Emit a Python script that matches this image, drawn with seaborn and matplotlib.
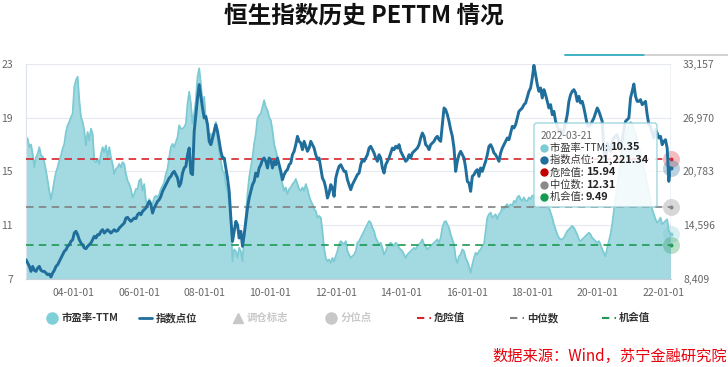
import pandas as pd
import seaborn as sns
import matplotlib.pyplot as plt
import matplotlib.dates as mdates
from matplotlib.lines import Line2D
from matplotlib.patches import FancyBboxPatch
from matplotlib.text import Annotation
from matplotlib.ticker import FuncFormatter

sns.set_style("white")
plt.rcParams["font.family"] = ["Noto Sans CJK SC", "DejaVu Sans"]
plt.rcParams["axes.unicode_minus"] = False

# data (roughly every ~19 days, 2002-07 .. 2022-03-21)
start_date = "2002-07-19"
end_date = "2022-03-21"

pe_ttm = [
    17.55, 17.43, 16.8, 17.0, 16.3, 15.3, 16.05, 16.3, 16.8, 16.18,
    16.1, 15.68, 15.05, 14.3, 13.55, 12.93, 13.55, 14.3, 14.93, 15.3,
    15.8, 16.18, 16.68, 17.05, 17.93, 18.43, 18.68, 19.05, 19.3, 21.3,
    21.8, 22.05, 20.3, 19.05, 18.68, 18.05, 16.93, 17.93, 17.3, 18.18,
    17.8, 15.8, 15.68, 15.93, 15.55, 16.3, 16.8, 16.43, 16.93, 16.05,
    16.8, 16.05, 15.55, 14.8, 15.18, 15.3, 15.55, 15.3, 15.68, 15.55,
    14.8, 14.3, 14.05, 13.68, 13.05, 13.3, 13.68, 13.68, 14.3, 14.43,
    13.55, 14.05, 12.8, 12.55, 12.93, 12.68, 12.55, 13.05, 13.18, 13.05,
    13.3, 13.68, 13.93, 14.18, 14.8, 15.18, 16.05, 16.8, 17.05, 16.8,
    17.18, 17.55, 18.43, 18.18, 18.18, 18.3, 18.55, 20.05, 20.93, 20.05,
    18.55,
    19.3, 20.3, 22.05, 22.68, 21.55, 20.05, 20.55, 18.8, 18.3, 17.55,
    17.8, 17.05, 18.18, 18.68, 17.55, 16.55, 15.8, 15.05, 14.93, 14.05,
    13.55, 12.55, 11.05, 8.3, 9.18, 9.05, 8.55, 9.3, 9.05, 8.3,
    10.05, 11.8, 13.3, 14.55, 15.3, 16.05, 17.05, 17.8, 18.93, 19.18,
    19.3, 19.8, 20.3, 19.8, 19.55, 19.05, 18.8, 18.05, 17.05, 16.55,
    16.05, 15.3, 14.55, 14.05, 13.55, 13.8, 13.3, 13.68, 13.8, 14.05,
    14.18, 14.43, 14.05, 13.68, 13.55, 13.8, 13.55, 14.05, 13.68, 13.18,
    12.8, 12.55, 12.18, 12.05, 11.55, 11.68, 11.55, 10.55, 9.3, 8.55,
    8.3, 8.43, 8.18, 8.55, 8.3, 8.68, 9.05, 9.55, 9.8, 9.68,
    9.55, 9.8, 9.05, 8.8, 8.55, 8.68, 8.8, 9.05, 9.68, 9.8,
    10.05, 10.3, 10.55, 10.8, 11.05, 11.3, 11.18, 10.8, 10.55, 10.05,
    9.8, 9.55, 9.68, 9.3, 8.8, 9.05, 9.43, 9.55, 9.68, 9.55,
    9.43, 9.68, 9.55, 9.3, 9.18, 9.05, 8.8, 8.55, 8.8, 8.93,
    9.05, 9.18, 9.3, 9.18, 9.43, 9.55, 9.68, 9.93, 9.55, 9.43,
    9.18, 9.3, 9.43, 9.55, 9.68, 9.8, 9.93, 9.68, 10.05, 10.8,
    11.18, 11.3, 11.05, 10.8, 10.3, 9.93, 9.55, 8.55, 8.18, 8.68,
    8.8, 9.18, 9.05, 8.55, 8.3, 7.93, 7.43, 8.05, 8.55, 8.93,
    8.8, 9.05, 9.18, 9.43, 9.55, 10.55, 11.55, 11.8, 11.93, 11.55,
    11.68, 11.8, 11.43, 11.8, 11.93, 12.3, 12.18, 12.43, 12.55, 12.3,
    12.55, 12.43, 12.8, 12.68, 13.05, 13.18, 12.93, 12.8, 13.05, 12.8,
    12.8, 13.05, 12.93, 13.18, 13.18, 13.1, 13.05, 13.05, 12.93, 12.93,
    12.8, 12.8, 12.55, 12.3, 11.93, 11.55, 11.05, 10.68, 10.3, 10.05,
    9.93, 9.93, 10.05, 10.3, 10.55, 10.68, 10.8, 10.93, 10.8, 10.55,
    10.3, 9.93, 9.8, 9.93, 10.05, 10.18, 10.3, 10.43, 10.3, 10.05,
    9.93, 9.8, 9.68, 9.8, 9.55, 9.18, 8.93, 8.68, 9.3, 9.8,
    10.3, 11.05, 12.05, 13.05, 13.8, 14.8, 15.8, 16.55, 17.05, 17.68,
    18.05, 18.43, 18.68, 18.55, 18.18, 17.8, 17.3, 16.8, 16.3, 15.8,
    15.3, 14.68, 14.05, 13.43, 12.8, 12.18, 11.8, 11.43, 11.18, 11.3,
    11.55, 11.05, 11.18, 11.3, 11.43, 10.55, 10.35,
]

hsi_points = [
    10600, 10215, 9830, 9255, 9830, 9370, 9255, 9640, 9830, 9370,
    9255, 9255, 9060, 8870, 8950, 8600, 9060, 9370, 9830, 10020,
    10410, 10790, 11180, 11560, 11750, 12140, 12330, 12710, 12900, 13670,
    13870, 13480, 12900, 12520, 12330, 11950, 11870, 12140, 12330, 12520,
    12900, 13290, 13100, 13480, 13480, 13870, 14060, 13670, 13870, 14060,
    13870, 13670, 13870, 14060, 13870, 13940, 14250, 14440, 14630, 14830,
    15400, 15480, 15210, 15020, 15210, 15400, 15330, 15790, 15980, 15790,
    16170, 16360, 16560, 16940, 17330, 16940, 15980, 16560, 16940, 17330,
    17520, 17900, 18480, 18860, 19250, 19630, 20010, 20210, 20590, 20780,
    20400, 20010, 19050, 19440, 20590, 21170, 21360, 22700, 23470, 20590,
    20400,
    25400, 27320, 29240, 30780, 29430, 28090, 26930, 27120, 26160, 24240,
    23860, 24630, 25400, 26160, 25400, 24240, 23090, 22320, 22320, 21170,
    20010, 18480, 15400, 12710, 13870, 15020, 14630, 13100, 13870, 12140,
    13480, 15020, 16560, 17710, 18480, 19250, 19630, 20590, 20210, 21170,
    21550, 22130, 22320, 21940, 21170, 22320, 22130, 21170, 21940, 21550,
    22320, 21550, 20780, 19820, 20400, 20780, 20980, 21550, 21740, 22700,
    23090, 23860, 24820, 24240, 24050, 23280, 24240, 23670, 23090, 23470,
    24240, 23860, 23470, 22700, 22130, 22320, 21170, 20010, 19630, 18860,
    17710, 18290, 19250, 18860, 17900, 20010, 20780, 21360, 21550, 21170,
    20780, 20780, 19820, 19250, 18670, 19250, 19630, 20010, 20400, 20590,
    21550, 22130, 21940, 22320, 22700, 23470, 23670, 23280, 22900, 22320,
    21940, 22700, 22320, 21170, 20590, 21550, 21940, 22320, 22900, 23470,
    23280, 23670, 23470, 23860, 23090, 22700, 22320, 21940, 22130, 22700,
    22320, 22900, 23090, 23280, 23470, 23860, 24630, 25200, 24820, 23860,
    23670, 23280, 23860, 24050, 24240, 24630, 24820, 24430, 24240, 26160,
    28090, 27890, 27320, 26550, 25590, 24820, 23470, 20780, 21940, 22700,
    23090, 22700, 22320, 21170, 19630, 19440, 18480, 20210, 20400, 20780,
    20980, 20210, 21170, 20780, 21360, 21940, 22700, 23670, 23860, 23470,
    22900, 22700, 22320, 21940, 22900, 23470, 23860, 24240, 24630, 24430,
    25200, 25970, 25780, 26160, 26930, 27700, 27890, 28090, 28470, 28660,
    29320, 30010, 30390, 31540, 33000, 31930, 30780, 30010, 30390, 29240,
    30200, 29620, 28850, 28090, 28470, 27320, 27700, 26550, 25970, 25400,
    25590, 25010, 25590, 26360, 27320, 28850, 29620, 30010, 30200, 29820,
    28850, 29430, 28660, 28850, 28090, 27120, 26160, 25970, 26160, 26550,
    26930, 27510, 28090, 27700, 27120, 26550, 23090, 21940, 24050, 23470,
    23090, 24240, 24630, 24820, 25010, 24050, 23470, 24430, 25590, 26550,
    26740, 26930, 29240, 30010, 30850, 29430, 28850, 28850, 29050, 28470,
    28660, 28850, 27320, 26160, 25970, 25200, 24630, 25590, 25200, 24630,
    24820, 23860, 24240, 24430, 23470, 19630, 21221.34,
]

danger_pe = 15.94
median_pe = 12.31
chance_pe = 9.49
last_pe = 10.35
last_hsi = 21221.34

left_ticks = [7, 11, 15, 19, 23]
right_ticks = [8409, 14596, 20783, 26970, 33157]
tick_years = [2004, 2006, 2008, 2010, 2012, 2014, 2016, 2018, 2020, 2022]

legend_labels = ["市盈率-TTM", "指数点位", "调仓标志", "分位点", "危险值", "中位数", "机会值"]

PE_FILL = "#a3d9e0"
PE_LINE = "#7ccad3"
HSI_BLUE = "#1f6e9c"
RED = "#d8232a"
GREY = "#808080"
GREEN = "#1d9a52"

df_pe = pd.DataFrame({"date": pd.date_range(start_date, end_date, periods=len(pe_ttm)), "pe": pe_ttm})
df_hsi = pd.DataFrame({"date": pd.date_range(start_date, end_date, periods=len(hsi_points)), "hsi": hsi_points})

W, H = 728, 367


def fx(x):
    return x / W


def fy(y):
    return 1 - y / H


fig = plt.figure(figsize=(W / 100, H / 100), dpi=100)
ax = fig.add_axes([fx(26), fy(278.7), fx(670.5) - fx(26), fy(64) - fy(278.7)])

ax.fill_between(df_pe["date"], 7, df_pe["pe"], color=PE_FILL, lw=0, zorder=1)
sns.lineplot(data=df_pe, x="date", y="pe", ax=ax, color=PE_LINE, lw=1.3, zorder=2)

for val, col in [(danger_pe, RED), (median_pe, GREY), (chance_pe, GREEN)]:
    ax.axhline(val, color=col, lw=1.2, dashes=(4.5, 3.2), zorder=3)

ax.set_ylim(7, 23)
ax.set_yticks(left_ticks)
ax.set_xlim(df_pe["date"].iloc[0], df_pe["date"].iloc[-1])
ax.set_xticks([pd.Timestamp(f"{y}-01-01") for y in tick_years])
ax.xaxis.set_major_formatter(mdates.DateFormatter("%y-%m-%d"))
ax.grid(axis="y", color="#e6e9ef", lw=0.8, zorder=0)
ax.set_axisbelow(True)
ax.set_xlabel("")
ax.set_ylabel("")
ax.tick_params(axis="y", length=0, pad=9.5, labelsize=7.5, labelcolor="#666666")
ax.tick_params(axis="x", length=4, width=0.8, color="#c5cfdc", pad=3, labelsize=7.5, labelcolor="#666666")
for side in ["top", "right"]:
    ax.spines[side].set_visible(False)
ax.spines["left"].set_color("#dde3ec")
ax.spines["bottom"].set_color("#c5cfdc")
ax.spines["left"].set_linewidth(0.8)
ax.spines["bottom"].set_linewidth(0.8)

ax2 = ax.twinx()
sns.lineplot(data=df_hsi, x="date", y="hsi", ax=ax2, color=HSI_BLUE, lw=2.1, zorder=4)
ax2.set_ylim(right_ticks[0], right_ticks[-1])
ax2.set_yticks(right_ticks)
ax2.yaxis.set_major_formatter(FuncFormatter(lambda v, p: f"{v:,.0f}"))
ax2.tick_params(axis="y", length=0, pad=9, labelsize=7.5, labelcolor="#666666")
ax2.set_ylabel("")
for side in ax2.spines:
    ax2.spines[side].set_visible(False)

# axis pointer at the last date
end = df_pe["date"].iloc[-1]
ax2.axvline(end, color="#b4c2d3", lw=1, zorder=5)

# highlight circles at the pointer
for val, col, a in [(danger_pe, RED, ax), (median_pe, GREY, ax), (last_pe, PE_LINE, ax), (chance_pe, GREEN, ax),
                    (last_hsi, HSI_BLUE, ax2)]:
    a.scatter([end], [val], s=150, color=col, alpha=0.3, lw=0, clip_on=False, zorder=6)
    a.scatter([end], [val], s=8, color=col, lw=0, clip_on=False, zorder=7)

# title
fig.text(0.5, fy(16), "恒生指数历史 PETTM 情况", ha="center", va="center", fontsize=17, fontweight="bold", color="#111111")

# slider strip at top right
fig.add_artist(Line2D([fx(565), fx(645)], [fy(55), fy(55)], color="#3fb2c4", lw=1.4, transform=fig.transFigure))
fig.add_artist(Line2D([fx(645), fx(728)], [fy(55), fy(55)], color="#d2d2d2", lw=1.4, transform=fig.transFigure))

# tooltip
box = FancyBboxPatch((fx(534), fy(207)), fx(657) - fx(534), fy(123) - fy(207),
                     boxstyle="round,pad=0,rounding_size=0.004", mutation_aspect=W / H,
                     facecolor="white", alpha=0.88, edgecolor="#93d0d8", lw=1,
                     transform=fig.transFigure, zorder=1)
fig.add_artist(box)
fig.text(fx(541), fy(136), "2022-03-21", fontsize=7.3, color="#666666", va="center")
rows = [
    ("市盈率-TTM", f"{last_pe:.2f}", PE_LINE),
    ("指数点位", f"{last_hsi:,.2f}", HSI_BLUE),
    ("危险值", f"{danger_pe:.2f}", "#c00000"),
    ("中位数", f"{median_pe:.2f}", "#8a8a8a"),
    ("机会值", f"{chance_pe:.2f}", "#169a50"),
]
for i, (lab, val, col) in enumerate(rows):
    y = fy(147.5 + i * 12.4)
    fig.add_artist(Line2D([fx(543.5)], [y], marker="o", ms=5, color=col, lw=0, transform=fig.transFigure))
    t = fig.text(fx(550), y, f"{lab}: ", fontsize=7.4, color="#333333", va="center")
    fig.add_artist(Annotation(val, xy=(1, 0.5), xycoords=t, va="center", ha="left",
                              fontsize=7.9, fontweight="bold", color="#222222"))

# legend (drawn by hand so the item spacing matches)
ly = fy(318)
active = "#333333"
muted = "#c8c8c8"
fig.add_artist(Line2D([fx(52.5)], [ly], marker="o", ms=8, color="#7fd0d9", lw=0, transform=fig.transFigure))
fig.text(fx(62), ly, legend_labels[0], fontsize=7.5, fontweight="bold", color=active, va="center")
fig.add_artist(Line2D([fx(139), fx(152)], [ly, ly], color=HSI_BLUE, lw=2, transform=fig.transFigure))
fig.text(fx(156), ly, legend_labels[1], fontsize=7.5, fontweight="bold", color=active, va="center")
fig.add_artist(Line2D([fx(238)], [ly], marker="^", ms=7, color=muted, lw=0, transform=fig.transFigure))
fig.text(fx(247), ly, legend_labels[2], fontsize=7.5, fontweight="bold", color=muted, va="center")
fig.add_artist(Line2D([fx(331)], [ly], marker="o", ms=8, color=muted, lw=0, transform=fig.transFigure))
fig.text(fx(341), ly, legend_labels[3], fontsize=7.5, fontweight="bold", color=muted, va="center")
for x0, lab, col in [(417, legend_labels[4], RED), (510, legend_labels[5], GREY), (602, legend_labels[6], GREEN)]:
    fig.add_artist(Line2D([fx(x0), fx(x0 + 14)], [ly, ly], color=col, lw=1.5, dashes=(3.5, 2.5),
                          transform=fig.transFigure))
    fig.text(fx(x0 + 17), ly, lab, fontsize=7.5, fontweight="bold", color=active, va="center")

# source note
fig.text(fx(727), fy(356), "数据来源：Wind，苏宁金融研究院", ha="right", va="center",
         fontsize=11, style="italic", color="#e8000b")

fig.savefig("out.png", dpi=100)
